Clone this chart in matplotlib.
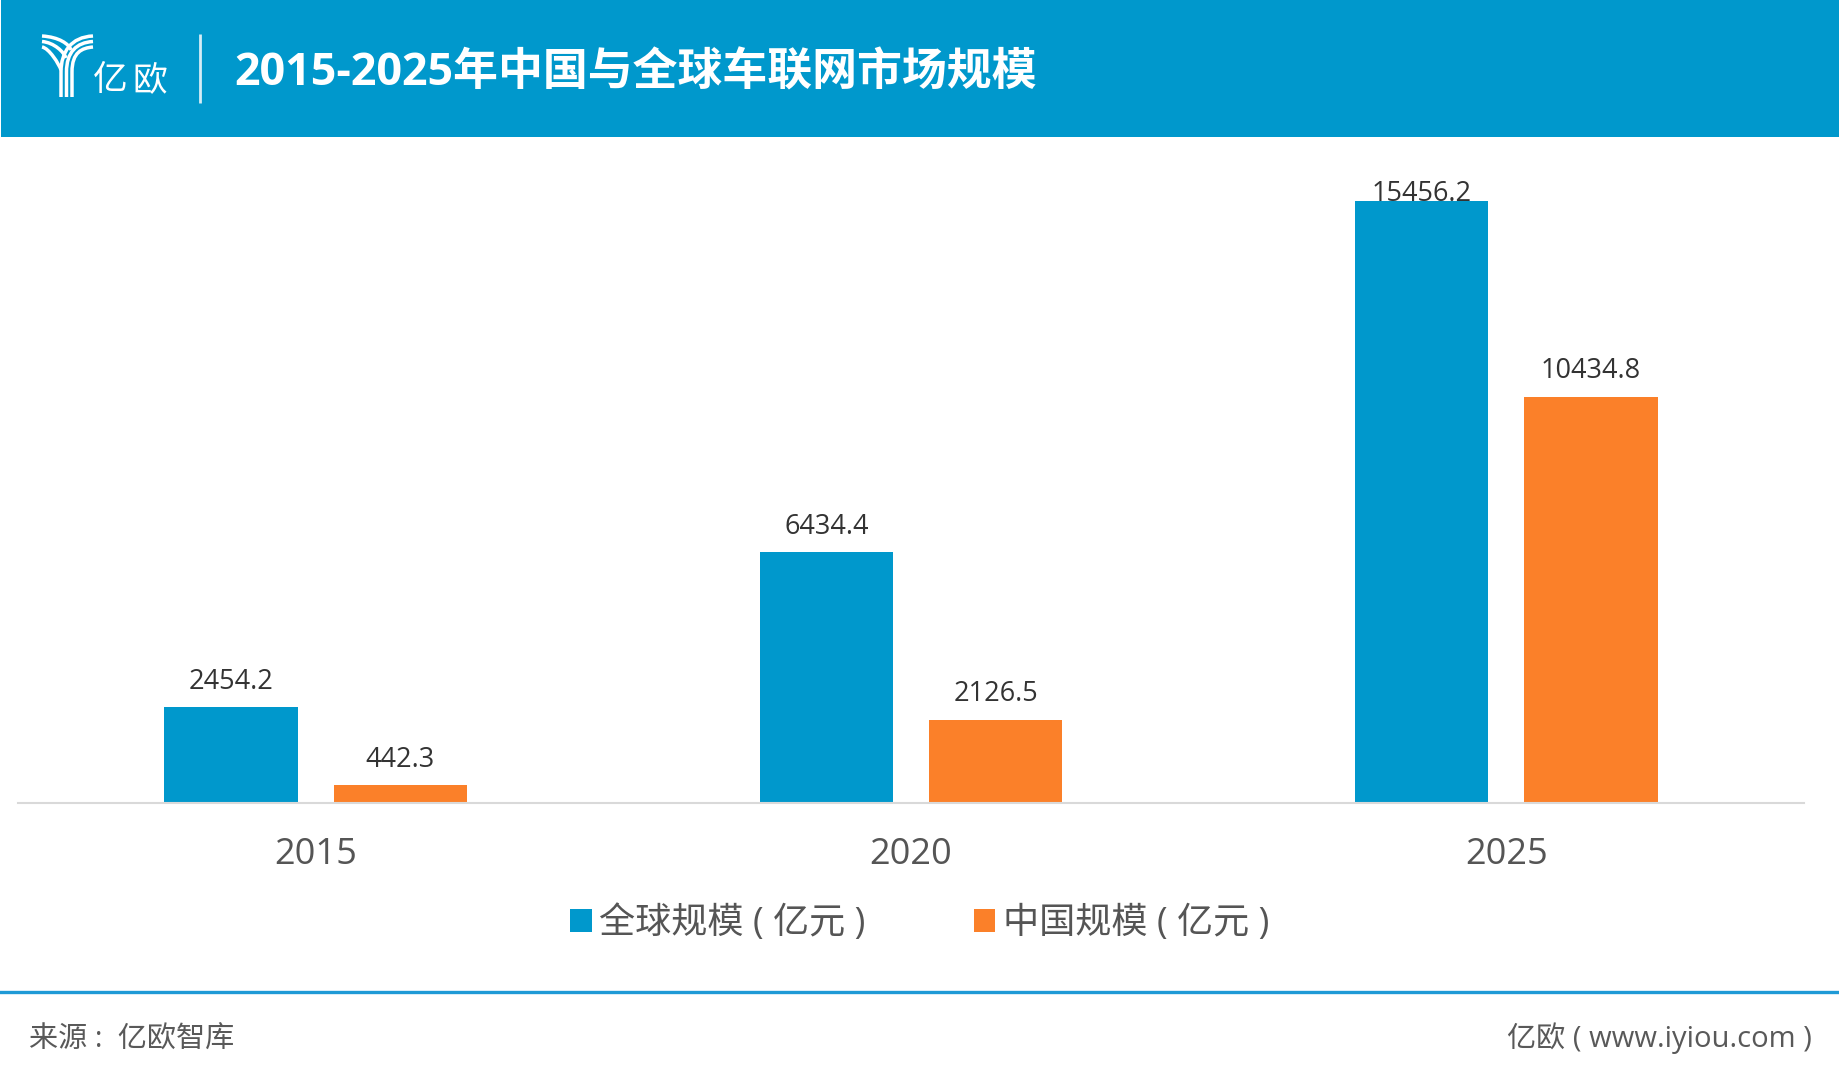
import matplotlib
matplotlib.use('Agg')
import matplotlib.pyplot as plt
import numpy as np
from matplotlib.patches import Rectangle, PathPatch
from matplotlib.path import Path

plt.rcParams['font.family'] = ['Open Sans', 'Noto Sans CJK SC', 'DejaVu Sans']

years = ['2015', '2020', '2025']
global_size = [2454.2, 6434.4, 15456.2]
china_size = [442.3, 2126.5, 10434.8]
global_name = '全球规模 ( 亿元 )'
china_name = '中国规模 ( 亿元 )'
title = '2015-2025年中国与全球车联网市场规模'
source = '来源 :  亿欧智库'
site = '亿欧 ( www.iyiou.com )'

BLUE = '#0098CC'
ORANGE = '#FB8029'
W, H = 1839, 1078

fig = plt.figure(figsize=(W / 100, H / 100), dpi=100, facecolor='white')

# 页眉和页脚，用像素坐标
bg = fig.add_axes([0, 0, 1, 1], zorder=0)
bg.set_xlim(0, W)
bg.set_ylim(H, 0)
bg.axis('off')
bg.add_patch(Rectangle((1, 0), W - 1, 136.5, color=BLUE, lw=0))
bg.plot([200.5, 200.5], [34, 103], color='#D5EDF6', lw=2, solid_capstyle='butt')
bg.plot([0, W], [992, 992], color='#1F9AD6', lw=2.4)
bg.text(234, 73.5, title, color='white', fontsize=32.3, fontweight='bold', va='center', ha='left')
bg.text(29, 1040, source, color='#595959', fontsize=21, va='center', ha='left')
bg.text(1812, 1038, site, color='#595959', fontsize=21, va='center', ha='right')
bg.text(93, 81, '亿', color='white', fontsize=25, fontweight='light', va='center', ha='left')
bg.text(132, 81, '欧', color='white', fontsize=25, fontweight='light', va='center', ha='left')

# logo
stems = [61, 66.5, 72]
arm_y = [36, 41.5, 47]
for sx, sy in zip(stems, arm_y):
    p = Path([(sx, 97), (sx, 72), (sx, 52), (sx + 10, sy + 1), (93, sy)],
             [Path.MOVETO, Path.LINETO, Path.CURVE4, Path.CURVE4, Path.CURVE4])
    bg.add_patch(PathPatch(p, fc='none', ec='white', lw=2.5))
left_end = [(71, 50), (66, 58), (61, 70)]
for (ex, ey), sy in zip(left_end, arm_y):
    p = Path([(42, sy), (ex - 12, sy + 1), (ex - 2, ey - 6), (ex, ey)],
             [Path.MOVETO, Path.CURVE4, Path.CURVE4, Path.CURVE4])
    bg.add_patch(PathPatch(p, fc='none', ec='white', lw=2.5))

# 柱状图
ax = fig.add_axes([18 / W, (H - 802.7) / H, 1786 / W, 662 / H], zorder=1)
ax.patch.set_alpha(0)
x = np.arange(len(years))
bw = 0.2243
gap = 0.06
b1 = ax.bar(x - (bw + gap) / 2, global_size, bw, color=BLUE, label=global_name, zorder=2)
b2 = ax.bar(x + (bw + gap) / 2, china_size, bw, color=ORANGE, label=china_name, zorder=2)
ax.set_xlim(-0.5, 2.5)
ax.set_ylim(0, 17010)
t1 = ax.bar_label(b1, labels=[f'{v:.1f}' for v in global_size], padding=8.3, fontsize=19.5, color='#333333', zorder=1)
t2 = ax.bar_label(b2, labels=[f'{v:.1f}' for v in china_size], padding=8.3, fontsize=19.5, color='#333333', zorder=1)
# 最高的柱子标签压在柱顶
t1[-1].xyann = (0, -5)
for s in ['top', 'left', 'right']:
    ax.spines[s].set_visible(False)
ax.spines['bottom'].set_color('#D9D9D9')
ax.spines['bottom'].set_linewidth(1.5)
ax.set_yticks([])
ax.set_xticks(x, years)
ax.tick_params(axis='x', length=0, pad=25, labelsize=26, labelcolor='#555555')

fig.legend(handles=[b1, b2], loc='center', bbox_to_anchor=(919.5 / W, 1 - 924 / H), ncol=2,
           frameon=False, fontsize=26, labelcolor='#555555', handlelength=0.6, handleheight=0.6,
           handletextpad=0.2, columnspacing=3.0)

fig.savefig('out.png', dpi=100)
